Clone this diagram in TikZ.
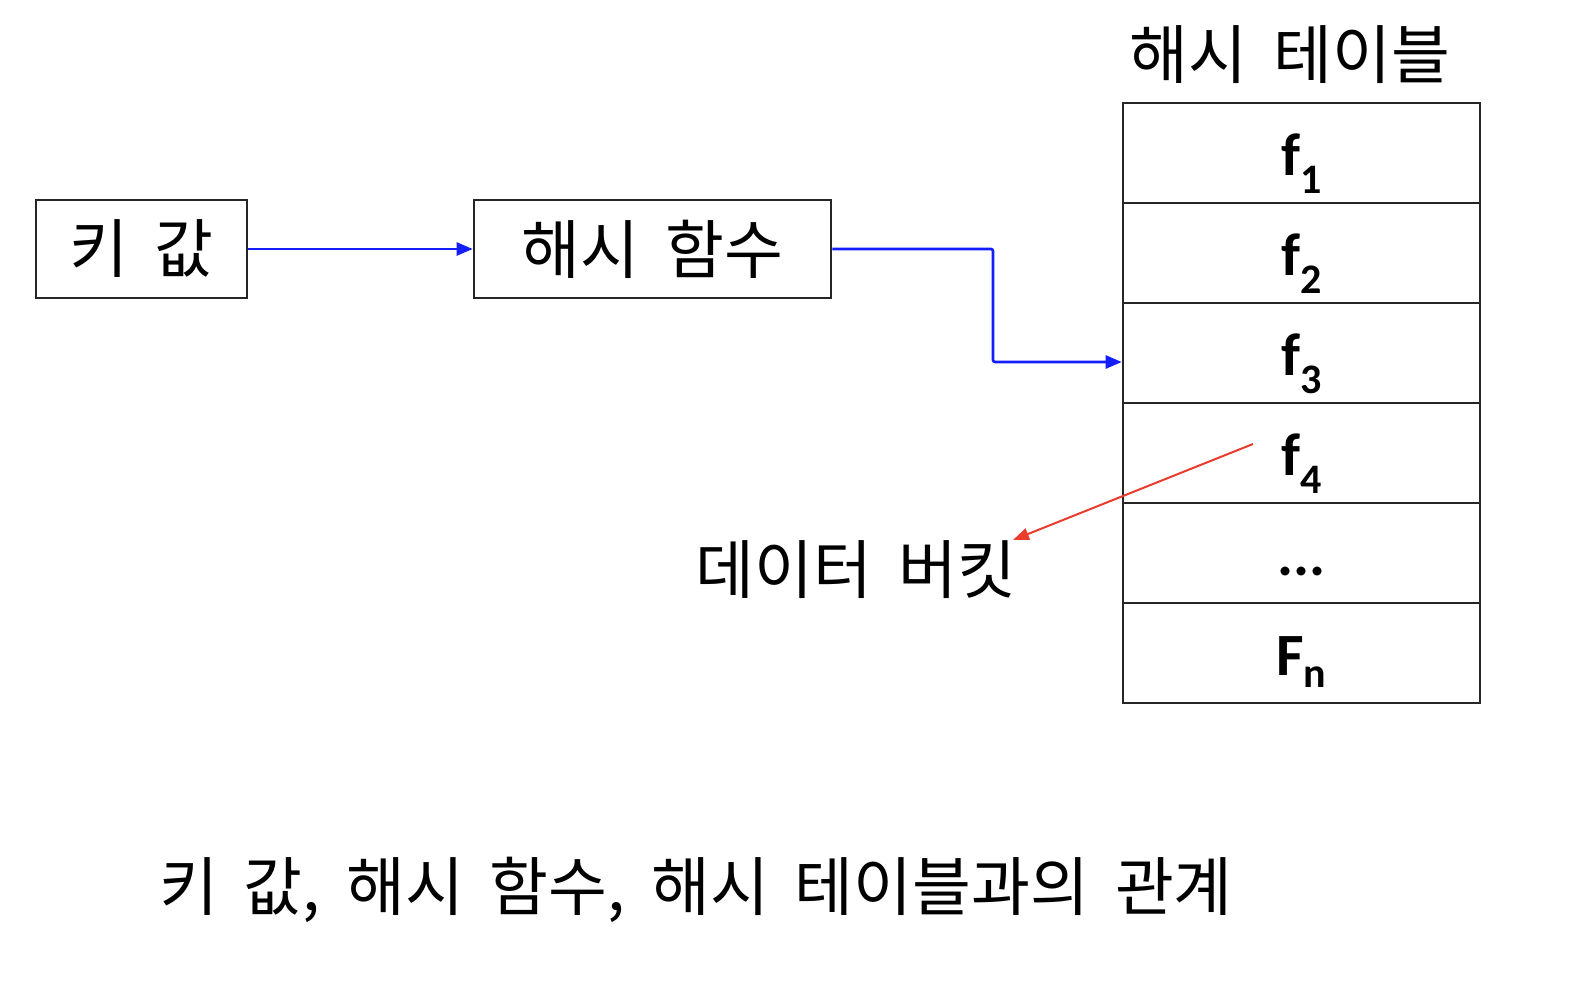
\documentclass[tikz,border=0pt]{standalone}
\usepackage{fontspec}
\setmainfont{Noto Sans CJK KR}[WordSpace=1.8]
\newfontfamily\latinb{Carlito}
\usetikzlibrary{arrows.meta,positioning}
\definecolor{arrblue}{RGB}{20,30,250}
\definecolor{arrred}{RGB}{235,60,45}
\tikzset{
  box/.style={draw=black!85,line width=2.6pt,minimum height=98pt,inner sep=0pt,font=\fontsize{64}{70}\selectfont},
  cell/.style={draw=black!85,line width=2.6pt,minimum width=357pt,minimum height=100pt,inner sep=0pt,font=\latinb\bfseries\fontsize{60}{66}\selectfont},
  bluearrow/.style={draw=arrblue,line width=2.6pt,-{Triangle[length=16pt,width=13pt]}},
  redarrow/.style={draw=arrred,line width=2pt,-{Triangle[length=16pt,width=12pt]}},
  lbl/.style={inner sep=0pt,font=\fontsize{64}{70}\selectfont}
}
\newcommand\celltext[1]{\raisebox{-22pt}[0pt][0pt]{#1}}
\begin{document}
\begin{tikzpicture}[x=1pt,y=-1pt]
\useasboundingbox (0,0) rectangle (1572,986);
\fill[white] (0,0) rectangle (1572,986);
\node[box,minimum width=211pt] (key) at (141.5,249) {키 값};
\node[box,minimum width=357pt] (hash) at (652.5,249) {해시 함수};
\node[cell] (r1) at (1301.5,153) {\celltext{f\textsubscript{1}}};
\node[cell] (r2) at (1301.5,253) {\celltext{f\textsubscript{2}}};
\node[cell] (r3) at (1301.5,353) {\celltext{f\textsubscript{3}}};
\node[cell] (r4) at (1301.5,453) {\celltext{f\textsubscript{4}}};
\node[cell] (r5) at (1301.5,553) {\celltext{...}};
\node[cell] (r6) at (1301.5,653) {\celltext{F\textsubscript{n}}};
\node[lbl] (title) at (1290,55) {해시 테이블};
\node[lbl] (bucket) at (856,570) {데이터 버킷};
\node[lbl] (caption) at (696,890) {키 값, 해시 함수, 해시 테이블과의 관계};
\coordinate (rstart) at (1253,444);
\coordinate (rend) at (1013,540);
\draw[bluearrow] (key.east) -- (hash.west);
\draw[bluearrow,rounded corners=2pt] (hash.east) -- (993,249) -- (993,362) -- (r3.west |- 0,362);
\draw[redarrow] (rstart) -- (rend);
\end{tikzpicture}
\end{document}
